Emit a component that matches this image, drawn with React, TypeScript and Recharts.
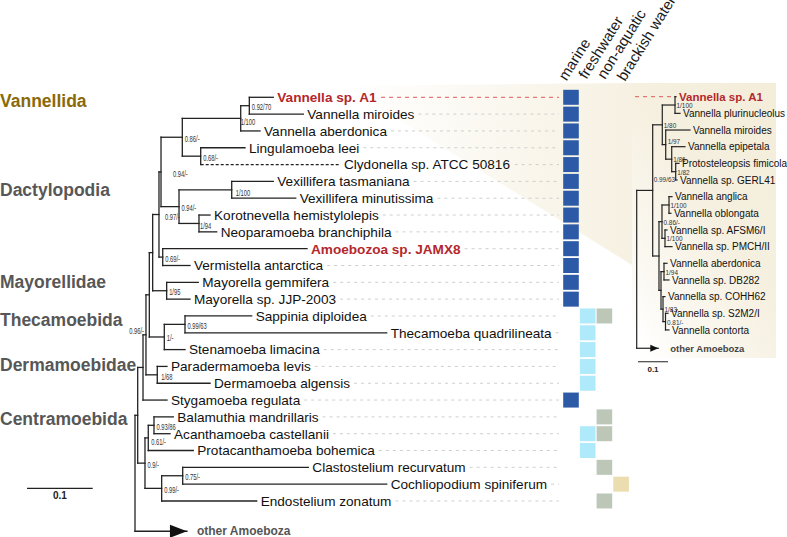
import React from 'react';
import { ScatterChart, Scatter, XAxis, YAxis } from 'recharts';

const W = 787;
const H = 537;
const FONT = "'Liberation Sans', Arimo, Arial, Helvetica, sans-serif";

// ---------------- main tree data ----------------
const tipNames = [
  'Vannella sp. A1', 'Vannella miroides', 'Vannella aberdonica', 'Lingulamoeba leei',
  'Clydonella sp. ATCC 50816', 'Vexillifera tasmaniana', 'Vexillifera minutissima',
  'Korotnevella hemistylolepis', 'Neoparamoeba branchiphila', 'Amoebozoa sp. JAMX8',
  'Vermistella antarctica', 'Mayorella gemmifera', 'Mayorella sp. JJP-2003', 'Sappinia diploidea',
  'Thecamoeba quadrilineata', 'Stenamoeba limacina', 'Paradermamoeba levis', 'Dermamoeba algensis',
  'Stygamoeba regulata', 'Balamuthia mandrillaris', 'Acanthamoeba castellanii',
  'Protacanthamoeba bohemica', 'Clastostelium recurvatum', 'Cochliopodium spiniferum',
  'Endostelium zonatum',
];
// distance from root (substitutions/site)
const tipDepths = [
  0.2105, 0.2562, 0.1903, 0.1674, 0.312, 0.2105, 0.2446, 0.1142, 0.1244, 0.2618, 0.0837, 0.0963,
  0.0837, 0.1776, 0.3831, 0.0761, 0.0487, 0.1142, 0.0487, 0.0583, 0.0533, 0.0887, 0.2638, 0.3831,
  0.1852,
];
const highlightedTips = ['Vannella sp. A1', 'Amoebozoa sp. JAMX8'];
const dashedTips = ['Clydonella sp. ATCC 50816'];
const outgroupName = 'other Amoeboza';
const outgroupRow = 25.8;
const outgroupDepth = 0.0791;

type TreeNode = { id: string; depth: number; kids: string[]; support: string };
const mainNodes: TreeNode[] = [
  { id: 'a1', depth: 0.174, kids: ['Vannella sp. A1', 'Vannella miroides'], support: '0.92/70' },
  { id: 'a2', depth: 0.1609, kids: ['a1', 'Vannella aberdonica'], support: '1/100' },
  { id: 'a3', depth: 0.1, kids: ['Lingulamoeba leei', 'Clydonella sp. ATCC 50816'], support: '0.68/-' },
  { id: 'a4', depth: 0.072, kids: ['a2', 'a3'], support: '0.86/-' },
  { id: 'b1', depth: 0.1472, kids: ['Vexillifera tasmaniana', 'Vexillifera minutissima'], support: '1/100' },
  { id: 'b2', depth: 0.0974, kids: ['Korotnevella hemistylolepis', 'Neoparamoeba branchiphila'], support: '1/94' },
  { id: 'b3', depth: 0.067, kids: ['b1', 'b2'], support: '0.94/-' },
  { id: 'b4', depth: 0.0396, kids: ['a4', 'b3'], support: '0.94/-' },
  { id: 'c1', depth: 0.0422, kids: ['Amoebozoa sp. JAMX8', 'Vermistella antarctica'], support: '0.69/-' },
  { id: 'c2', depth: 0.0365, kids: ['b4', 'c1'], support: '0.97/-' },
  { id: 'd1', depth: 0.0482, kids: ['Mayorella gemmifera', 'Mayorella sp. JJP-2003'], support: '1/95' },
  { id: 'd2', depth: 0.0269, kids: ['c2', 'd1'], support: '' },
  { id: 'e1', depth: 0.0761, kids: ['Sappinia diploidea', 'Thecamoeba quadrilineata'], support: '0.99/63' },
  { id: 'e2', depth: 0.0446, kids: ['e1', 'Stenamoeba limacina'], support: '1/-' },
  { id: 'e3', depth: 0.0218, kids: ['d2', 'e2'], support: '' },
  { id: 'f1', depth: 0.0339, kids: ['Paradermamoeba levis', 'Dermamoeba algensis'], support: '1/68' },
  { id: 'f2', depth: 0.0167, kids: ['e3', 'f1'], support: '0.96/-' },
  { id: 'f3', depth: 0.0122, kids: ['f2', 'Stygamoeba regulata'], support: '' },
  { id: 'g1', depth: 0.0289, kids: ['Balamuthia mandrillaris', 'Acanthamoeba castellanii'], support: '0.93/86' },
  { id: 'g2', depth: 0.0202, kids: ['g1', 'Protacanthamoeba bohemica'], support: '0.61/-' },
  { id: 'g3', depth: 0.0726, kids: ['Clastostelium recurvatum', 'Cochliopodium spiniferum'], support: '0.75/-' },
  { id: 'g4', depth: 0.0406, kids: ['g3', 'Endostelium zonatum'], support: '0.99/-' },
  { id: 'g5', depth: 0.0152, kids: ['g2', 'g4'], support: '0.9/-' },
  { id: 'h1', depth: 0.0041, kids: ['f3', 'g5'], support: '' },
  { id: 'root', depth: 0, kids: ['h1', 'other Amoeboza'], support: '' },
];

// habitat matrix (1 = present), one entry per tip row
const habitatNames = ['marine', 'freshwater', 'non-aquatic', 'brackish water'];
const habitatMarine = [1, 1, 1, 1, 1, 1, 1, 1, 1, 1, 1, 1, 1, 0, 0, 0, 0, 0, 1, 0, 0, 0, 0, 0, 0];
const habitatFreshwater = [0, 0, 0, 0, 0, 0, 0, 0, 0, 0, 0, 0, 0, 1, 1, 1, 1, 1, 0, 0, 1, 1, 0, 0, 0];
const habitatNonAquatic = [0, 0, 0, 0, 0, 0, 0, 0, 0, 0, 0, 0, 0, 1, 0, 0, 0, 0, 0, 1, 1, 0, 1, 0, 1];
const habitatBrackish = [0, 0, 0, 0, 0, 0, 0, 0, 0, 0, 0, 0, 0, 0, 0, 0, 0, 0, 0, 0, 0, 0, 0, 1, 0];

// clade names on the left, with the tree row they sit at
const groupNames = ['Vannellida', 'Dactylopodia', 'Mayorellidae', 'Thecamoebida', 'Dermamoebidae', 'Centramoebida'];
const groupRows = [0.2, 5.5, 10.98, 13.24, 15.9, 19.12];

// ---------------- Vannella detail tree ----------------
const rightTipNames = [
  'Vannella sp. A1', 'Vannella plurinucleolus', 'Vannella miroides', 'Vannella epipetala',
  'Protosteleopsis fimicola', 'Vannella sp. GERL41', 'Vannella anglica', 'Vannella oblongata',
  'Vannella sp. AFSM6/I', 'Vannella sp. PMCH/II', 'Vannella aberdonica', 'Vannella sp. DB282',
  'Vannella sp. COHH62', 'Vannella sp. S2M2/I', 'Vannella contorta',
];
const rightTipDepths = [
  0.131, 0.1443, 0.1777, 0.161, 0.141, 0.1343, 0.1177, 0.114, 0.101, 0.1177, 0.101, 0.1077, 0.0943,
  0.1043, 0.1077,
];
const rightOutgroupRow = 15.1;
const rightOutgroupDepth = 0.072;
const rightNodes: TreeNode[] = [
  { id: 'r1', depth: 0.1277, kids: ['Vannella sp. A1', 'Vannella plurinucleolus'], support: '1/100' },
  { id: 'r2', depth: 0.13, kids: ['Protosteleopsis fimicola', 'Vannella sp. GERL41'], support: '1/82' },
  { id: 'r3', depth: 0.1167, kids: ['Vannella epipetala', 'r2'], support: '1/86' },
  { id: 'r4', depth: 0.0967, kids: ['Vannella miroides', 'r3'], support: '1/97' },
  { id: 'r5', depth: 0.0853, kids: ['r1', 'r4'], support: '1/80' },
  { id: 'r6', depth: 0.1077, kids: ['Vannella anglica', 'Vannella oblongata'], support: '1/100' },
  { id: 'r7', depth: 0.0943, kids: ['Vannella sp. AFSM6/I', 'Vannella sp. PMCH/II'], support: '1/100' },
  { id: 'r8', depth: 0.0843, kids: ['r6', 'r7'], support: '0.86/-' },
  { id: 'r9', depth: 0.091, kids: ['Vannella aberdonica', 'Vannella sp. DB282'], support: '1/94' },
  { id: 'r10', depth: 0.096, kids: ['Vannella sp. S2M2/I', 'Vannella contorta'], support: '0.81/-' },
  { id: 'r11', depth: 0.0877, kids: ['Vannella sp. COHH62', 'r10'], support: '1/83' },
  { id: 'r12', depth: 0.081, kids: ['r9', 'r11'], support: '' },
  { id: 'r13', depth: 0.0743, kids: ['r8', 'r12'], support: '' },
  { id: 'r14', depth: 0.0533, kids: ['r5', 'r13'], support: '0.99/63' },
  { id: 'rroot', depth: 0, kids: ['r14', 'other Amoeboza'], support: '' },
];

const scaleBarLength = 0.1;

// ---------------- layout (axis mappings: px = x0 + value * k) ----------------
const MX = { x0: 135, k: 657 };
const MY = { y0: 97.3, k: 16.82 };
const HX = { x0: 571, k: 16.7 };
const RX = { x0: 636.7, k: 300 };
const RY = { y0: 96.7, k: 16.66 };
const domX = (a: { x0: number; k: number }) => [-a.x0 / a.k, (W - a.x0) / a.k];
const domY = (a: { y0: number; k: number }) => [-a.y0 / a.k, (H - a.y0) / a.k];
const toMain = (px: number) => (px - MX.x0) / MX.k;
const toRight = (px: number) => (px - RX.x0) / RX.k;

let ctx: CanvasRenderingContext2D | null = null;
function measure(s: string, font: string): number {
  if (typeof document === 'undefined') return s.length * 7;
  if (!ctx) ctx = document.createElement('canvas').getContext('2d');
  if (!ctx) return s.length * 7;
  ctx.font = font;
  return ctx.measureText(s).width;
}

type Pt = { x: number; y: number };
type Seg = [Pt, Pt];

function buildPositions(names: string[], depths: number[], nodes: TreeNode[], outRow: number, outDepth: number) {
  const pos: Record<string, Pt> = {};
  names.forEach((n, i) => (pos[n] = { x: depths[i], y: i }));
  pos['other Amoeboza'] = { x: outDepth, y: outRow };
  nodes.forEach((nd) => {
    const ys = nd.kids.map((k) => pos[k].y);
    pos[nd.id] = { x: nd.depth, y: (Math.min(...ys) + Math.max(...ys)) / 2 };
  });
  return pos;
}

function buildSegments(nodes: TreeNode[], pos: Record<string, Pt>, dashed: string[]) {
  const solid: Seg[] = [];
  const dash: Seg[] = [];
  nodes.forEach((nd) => {
    const p = pos[nd.id];
    const ys = nd.kids.map((k) => pos[k].y);
    solid.push([{ x: p.x, y: Math.min(...ys) }, { x: p.x, y: Math.max(...ys) }]);
    nd.kids.forEach((k) => {
      const c = pos[k];
      (dashed.includes(k) ? dash : solid).push([{ x: p.x, y: c.y }, { x: c.x, y: c.y }]);
    });
  });
  return { solid, dash };
}

const flat = (segs: Seg[]) => segs.flatMap((s) => [s[0], s[1]]);

const pairLine = (stroke: string, width: number, dash?: string, cap: string = 'square') => (props: any) => {
  const pts = props.points || [];
  const out: React.ReactNode[] = [];
  for (let i = 0; i + 1 < pts.length; i += 2) {
    out.push(
      <line key={i} x1={pts[i].x} y1={pts[i].y} x2={pts[i + 1].x} y2={pts[i + 1].y}
        stroke={stroke} strokeWidth={width} strokeDasharray={dash} strokeLinecap={cap as any} />
    );
  }
  return <g>{out}</g>;
};

const polygonFill = (fill: string) => (props: any) => {
  const pts: Pt[] = props.points || [];
  if (!pts.length) return <g />;
  const d = 'M' + pts.map((p) => `${p.x},${p.y}`).join('L') + 'Z';
  return <path d={d} fill={fill} stroke="none" />;
};

const noShape = () => <g />;

// colors / styles
const BRANCH = '#222';
const RED = '#b3282c';
const SUPPORT = '#333';
const BEIGE = '#f3ecd8';
const HAB_COLORS = ['#2c5aa6', '#aeeaf9', '#bdc7b8', '#ebddb0'];

const mainPos = buildPositions(tipNames, tipDepths, mainNodes, outgroupRow, outgroupDepth);
const mainSegs = buildSegments(mainNodes, mainPos, dashedTips);
const rightPos = buildPositions(rightTipNames, rightTipDepths, rightNodes, rightOutgroupRow, rightOutgroupDepth);
const rightSegs = buildSegments(rightNodes, rightPos, []);

const TIP_FONT = 13.6;
const tipFont = (bold: boolean) => `${bold ? 'bold ' : ''}${TIP_FONT}px ${FONT}`;
const mainTipData = tipNames.map((n, i) => ({ x: tipDepths[i], y: i, name: n, hl: highlightedTips.includes(n) }));

// leader lines from label end to the habitat matrix
const leaderEndPx = HX.x0 - 0.72 * HX.k;
const leaderGray: Seg[] = [];
const leaderRed: Seg[] = [];
mainTipData.forEach((t) => {
  const wpx = measure(t.name, tipFont(t.hl));
  const start = t.x + (4 + wpx + 4) / MX.k;
  const seg: Seg = [{ x: start, y: t.y }, { x: toMain(leaderEndPx), y: t.y }];
  (t.name === 'Vannella sp. A1' ? leaderRed : leaderGray).push(seg);
});
const rightRedLeader: Seg[] = [[{ x: toRight(635), y: 0 }, { x: toRight(673.5), y: 0 }]];

const supportNudge: Record<string, { dx: number; dy: number; anchor?: string }> = {
  f2: { dx: -2, dy: -1, anchor: 'end' },
  b4: { dx: 12, dy: 5 },
  c2: { dx: 6, dy: 5 },
  f1: { dx: 4, dy: 5 },
  b1: { dx: 4, dy: 6 },
  g2: { dx: 3, dy: 7 },
  b2: { dx: 1, dy: 6 },
  a2: { dx: 0, dy: 7 },
};
const rightNudge: Record<string, { dx: number; dy: number }> = {
  r14: { dx: 1, dy: -8 },
  r4: { dx: 2, dy: -0.5 },
};

const mainSupportData = mainNodes.filter((n) => n.support).map((n) => ({ ...mainPos[n.id], id: n.id, text: n.support }));
const rightSupportData = rightNodes.filter((n) => n.support).map((n) => ({ ...rightPos[n.id], id: n.id, text: n.support }));

const habitatRows = [habitatMarine, habitatFreshwater, habitatNonAquatic, habitatBrackish];
const squareData = habitatRows.flatMap((arr, c) => arr.map((v, r) => ({ x: c, y: r, v })).filter((d) => d.v === 1));

const headerData = [
  { x: 566.5, y: 81.5, text: habitatNames[0] },
  { x: 586.5, y: 80, text: habitatNames[1] },
  { x: 605, y: 80, text: habitatNames[2] },
  { x: 625, y: 82, text: habitatNames[3] },
];

const groupData = groupNames.map((g, i) => ({ x: 0, y: groupRows[i], text: g }));

const mainScaleY = 23.25;
const mainScaleStart = toMain(27);
const mainScale: Seg[] = [[{ x: mainScaleStart, y: mainScaleY }, { x: mainScaleStart + scaleBarLength, y: mainScaleY }]];
const rightScaleY = 15.91;
const rightScaleStart = toRight(638);
const rightScale: Seg[] = [[{ x: rightScaleStart, y: rightScaleY }, { x: rightScaleStart + scaleBarLength, y: rightScaleY }]];

// highlight wedge (pixel coordinates on the decoration axes)
const wedgePts = [
  { x: 345, y: 86 }, { x: 632, y: 83 }, { x: 632, y: 265 },
];
const panelPts = [
  { x: 632, y: 83 }, { x: 776, y: 83 }, { x: 776, y: 358 }, { x: 632, y: 358 },
];

function condensedText(props: any, text: string, size: number, ratio: number, dx: number, dy: number, anchor = 'start') {
  const w = measure(text, `${size}px ${FONT}`) * ratio;
  return (
    <text x={props.cx + dx} y={props.cy + dy} fontSize={size} fontFamily={FONT} fill={SUPPORT}
      textAnchor={anchor as any} textLength={w} lengthAdjust="spacingAndGlyphs">{text}</text>
  );
}

export default function App() {
  return (
    <div style={{ position: 'absolute', left: 0, top: 0, width: W, height: H, background: '#fff', overflow: 'hidden' }}>
      <ScatterChart width={W} height={H} margin={{ top: 0, right: 0, bottom: 0, left: 0 }}>
        <defs>
          <linearGradient id="wedgeGrad" x1="0" y1="0" x2="1" y2="0">
            <stop offset="0" stopColor={BEIGE} stopOpacity={0} />
            <stop offset="0.35" stopColor={BEIGE} stopOpacity={0.25} />
            <stop offset="1" stopColor={BEIGE} stopOpacity={0.75} />
          </linearGradient>
          <linearGradient id="panelGrad" x1="0.9" y1="0" x2="0.1" y2="1">
            <stop offset="0" stopColor={BEIGE} stopOpacity={0.95} />
            <stop offset="0.45" stopColor={BEIGE} stopOpacity={0.8} />
            <stop offset="0.8" stopColor={BEIGE} stopOpacity={0.35} />
            <stop offset="1" stopColor={BEIGE} stopOpacity={0} />
          </linearGradient>
        </defs>
        <XAxis xAxisId="m" dataKey="x" type="number" domain={domX(MX)} hide allowDataOverflow scale="linear" />
        <XAxis xAxisId="h" dataKey="x" type="number" domain={domX(HX)} hide allowDataOverflow scale="linear" />
        <XAxis xAxisId="r" dataKey="x" type="number" domain={domX(RX)} hide allowDataOverflow scale="linear" />
        <XAxis xAxisId="px" dataKey="x" type="number" domain={[0, W]} hide allowDataOverflow scale="linear" />
        <YAxis yAxisId="m" dataKey="y" type="number" domain={domY(MY)} hide allowDataOverflow reversed scale="linear" />
        <YAxis yAxisId="r" dataKey="y" type="number" domain={domY(RY)} hide allowDataOverflow reversed scale="linear" />
        <YAxis yAxisId="py" dataKey="y" type="number" domain={[0, H]} hide allowDataOverflow reversed scale="linear" />

        {/* highlight background */}
        <Scatter data={panelPts} xAxisId="px" yAxisId="py" line={polygonFill('url(#panelGrad)')} shape={noShape} isAnimationActive={false} />
        <Scatter data={wedgePts} xAxisId="px" yAxisId="py" line={polygonFill('url(#wedgeGrad)')} shape={noShape} isAnimationActive={false} />

        {/* leaders */}
        <Scatter data={flat(leaderGray)} xAxisId="m" yAxisId="m" line={pairLine('#cfcfcf', 1, '3 4', 'butt')} shape={noShape} isAnimationActive={false} />
        <Scatter data={flat(leaderRed)} xAxisId="m" yAxisId="m" line={pairLine('#dd5a5a', 1, '4 4', 'butt')} shape={noShape} isAnimationActive={false} />
        <Scatter data={flat(rightRedLeader)} xAxisId="r" yAxisId="r" line={pairLine('#dd5a5a', 1, '4 4', 'butt')} shape={noShape} isAnimationActive={false} />

        {/* main tree branches */}
        <Scatter data={flat(mainSegs.solid)} xAxisId="m" yAxisId="m" line={pairLine(BRANCH, 1.3)} shape={noShape} isAnimationActive={false} />
        <Scatter data={flat(mainSegs.dash)} xAxisId="m" yAxisId="m" line={pairLine(BRANCH, 1.3, '3 2', 'butt')} shape={noShape} isAnimationActive={false} />
        <Scatter data={flat(mainScale)} xAxisId="m" yAxisId="m" line={pairLine(BRANCH, 1.3, undefined, 'butt')} shape={noShape} isAnimationActive={false} />

        {/* right tree branches */}
        <Scatter data={flat(rightSegs.solid)} xAxisId="r" yAxisId="r" line={pairLine(BRANCH, 1.2)} shape={noShape} isAnimationActive={false} />
        <Scatter data={flat(rightScale)} xAxisId="r" yAxisId="r" line={pairLine(BRANCH, 1, undefined, 'butt')} shape={noShape} isAnimationActive={false} />

        {/* arrows */}
        <Scatter data={[{ x: outgroupDepth, y: outgroupRow }]} xAxisId="m" yAxisId="m" isAnimationActive={false}
          shape={(p: any) => <polygon points={`${p.cx},${p.cy} ${p.cx - 17},${p.cy - 6.5} ${p.cx - 17},${p.cy + 6.5}`} fill="#111" />} />
        <Scatter data={[{ x: rightOutgroupDepth, y: rightOutgroupRow }]} xAxisId="r" yAxisId="r" isAnimationActive={false}
          shape={(p: any) => <polygon points={`${p.cx},${p.cy} ${p.cx - 8},${p.cy - 3.5} ${p.cx - 8},${p.cy + 3.5}`} fill="#111" />} />

        {/* habitat matrix */}
        <Scatter data={squareData} xAxisId="h" yAxisId="m" isAnimationActive={false}
          shape={(p: any) => <rect x={p.cx - 7.8} y={p.cy - 7.5} width={15.6} height={15} fill={HAB_COLORS[p.payload.x]} />} />
        <Scatter data={headerData} xAxisId="px" yAxisId="py" isAnimationActive={false}
          shape={(p: any) => (
            <text transform={`translate(${p.cx},${p.cy}) rotate(-58)`} fontSize={15} fontFamily={FONT} fill="#1a1a1a">{p.payload.text}</text>
          )} />

        {/* main tip labels */}
        <Scatter data={mainTipData} xAxisId="m" yAxisId="m" isAnimationActive={false}
          shape={(p: any) => (
            <text x={p.cx + 4} y={p.cy} dy="0.36em" fontSize={TIP_FONT} fontFamily={FONT}
              fontWeight={p.payload.hl ? 'bold' : 'normal'} fill={p.payload.hl ? RED : '#111'}>{p.payload.name}</text>
          )} />
        <Scatter data={[{ x: outgroupDepth, y: outgroupRow, name: outgroupName }]} xAxisId="m" yAxisId="m" isAnimationActive={false}
          shape={(p: any) => (
            <text x={p.cx + 10} y={p.cy} dy="0.33em" fontSize={12} fontFamily={FONT} fontWeight="bold" fill="#555">{p.payload.name}</text>
          )} />

        {/* support values */}
        <Scatter data={mainSupportData} xAxisId="m" yAxisId="m" isAnimationActive={false}
          shape={(p: any) => {
            const n = supportNudge[p.payload.id] || { dx: 2.5, dy: 4.5 };
            return condensedText(p, p.payload.text, 8.5, 0.68, n.dx, n.dy, n.anchor || 'start');
          }} />
        <Scatter data={rightSupportData} xAxisId="r" yAxisId="r" isAnimationActive={false}
          shape={(p: any) => {
            const n = rightNudge[p.payload.id] || { dx: 1.5, dy: 3 };
            return condensedText(p, p.payload.text, 8, 0.8, n.dx, n.dy);
          }} />

        {/* right tip labels */}
        <Scatter data={rightTipNames.map((n, i) => ({ x: rightTipDepths[i], y: i, name: n }))} xAxisId="r" yAxisId="r" isAnimationActive={false}
          shape={(p: any) => {
            const hl = p.payload.name === 'Vannella sp. A1';
            return (
              <text x={p.cx + 3} y={p.cy} dy="0.36em" fontSize={hl ? 11.5 : 10} fontFamily={FONT}
                fontWeight={hl ? 'bold' : 'normal'} fill={hl ? RED : '#111'}>{p.payload.name}</text>
            );
          }} />
        <Scatter data={[{ x: rightOutgroupDepth, y: rightOutgroupRow, name: outgroupName }]} xAxisId="r" yAxisId="r" isAnimationActive={false}
          shape={(p: any) => (
            <text x={p.cx + 12} y={p.cy} dy="0.36em" fontSize={9.5} fontFamily={FONT} fontWeight="bold" fill="#444">{p.payload.name}</text>
          )} />

        {/* clade names */}
        <Scatter data={groupData} xAxisId="px" yAxisId="m" isAnimationActive={false}
          shape={(p: any) => (
            <text x={p.cx} y={p.cy} dy="0.36em" fontSize={17.5} fontFamily={FONT} fontWeight="bold"
              fill={p.payload.text === 'Vannellida' ? '#8a6a07' : '#575757'}>{p.payload.text}</text>
          )} />

        {/* scale bar labels */}
        <Scatter data={[{ x: mainScaleStart + scaleBarLength / 2, y: mainScaleY, t: String(scaleBarLength) }]} xAxisId="m" yAxisId="m" isAnimationActive={false}
          shape={(p: any) => <text x={p.cx} y={p.cy + 11} textAnchor="middle" fontSize={10} fontWeight="bold" fontFamily={FONT} fill="#222">{p.payload.t}</text>} />
        <Scatter data={[{ x: rightScaleStart + scaleBarLength / 2, y: rightScaleY, t: String(scaleBarLength) }]} xAxisId="r" yAxisId="r" isAnimationActive={false}
          shape={(p: any) => <text x={p.cx} y={p.cy + 10} textAnchor="middle" fontSize={8} fontWeight="bold" fontFamily={FONT} fill="#222">{p.payload.t}</text>} />
      </ScatterChart>
    </div>
  );
}
